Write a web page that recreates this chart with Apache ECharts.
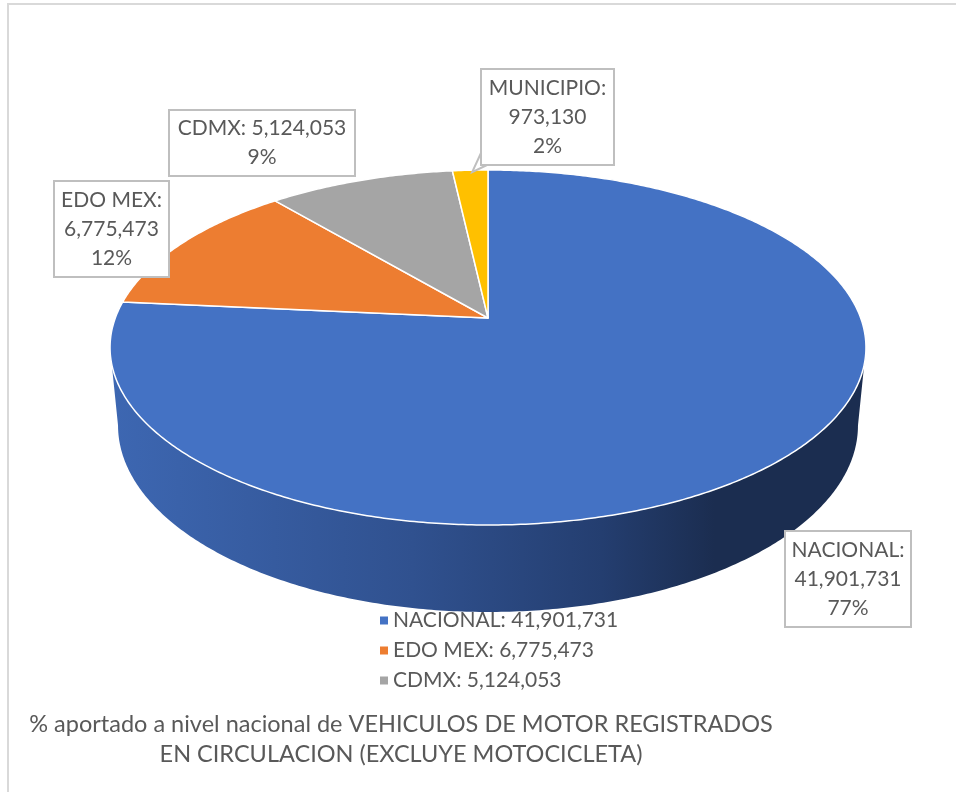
<!DOCTYPE html>
<html>
<head>
<meta charset="utf-8">
<script src="https://cdn.jsdelivr.net/npm/echarts@6/dist/echarts.min.js"></script>
<style>
  html, body { margin: 0; padding: 0; background: #fff; }
  #main { width: 956px; height: 792px; }
</style>
</head>
<body>
<div id="main"></div>
<script>
// datos del grafico
const names = ['NACIONAL', 'EDO MEX', 'CDMX', 'MUNICIPIO']
const values = [41901731, 6775473, 5124053, 973130]
const legendNames = ['NACIONAL', 'EDO MEX', 'CDMX']
const colors = ['#4472c4', '#ed7d31', '#a5a5a5', '#ffc000']

const titleLines = [
  '% aportado a nivel nacional de VEHICULOS DE MOTOR REGISTRADOS',
  'EN CIRCULACION (EXCLUYE MOTOCICLETA)'
]

// posiciones de las etiquetas (cajas) [x, y, w, h]
const labelBoxes = [
  [785, 531, 126, 96],
  [54, 181, 115, 96],
  [169, 110, 186, 66],
  [481, 69, 133, 96]
]

const total = values.reduce((a, b) => a + b, 0)
const cum = []
values.reduce((acc, v, i) => { cum[i] = acc; return acc + v }, 0)

// porcentajes enteros que suman 100 (resto mayor, como excel)
const pcts = (() => {
  const raw = values.map(v => v / total * 100)
  const out = raw.map(Math.floor)
  let left = 100 - out.reduce((a, b) => a + b, 0)
  const order = raw.map((r, i) => i).sort((a, b) => (raw[b] - out[b]) - (raw[a] - out[a]))
  for (let k = 0; k < left; k++) out[order[k]]++
  return out
})()

const fmt = v => v.toLocaleString('en-US')

// proyeccion en perspectiva del pastel 3d
const cx = 488, cy = 318, A = 372.7, B = 172.6, P = 0.1662, Q = 0.021, H = 78.7
function proj (phi, bottom) {
  const u = Math.sin(phi)
  const w = -Math.cos(phi)
  const den = 1 - P * w + (bottom ? Q : 0)
  return [cx + A * u / den, cy + (B * w + (bottom ? H : 0)) / den]
}
function arc (a0, a1, bottom) {
  const pts = []
  const n = Math.max(2, Math.ceil(Math.abs(a1 - a0) / 0.01))
  for (let i = 0; i <= n; i++) pts.push(proj(a0 + (a1 - a0) * i / n, bottom))
  return pts
}

const TXT = '#595959'
const FONT = 'Lato, "Open Sans", sans-serif'

function renderItem (params, api) {
  const i = params.dataIndex
  const v = api.value(0)
  const a0 = cum[i] / total * Math.PI * 2
  const a1 = (cum[i] + v) / total * Math.PI * 2
  const children = []

  if (i === 0) {
    // pared frontal
    const tR = Math.PI - Math.acos(P)
    const tL = Math.PI + Math.acos(P)
    const bR = Math.PI - Math.acos(P / (1 + Q))
    const bL = Math.PI + Math.acos(P / (1 + Q))
    const wall = arc(tR, tL, false).concat(arc(bL, bR, true))
    children.push({
      type: 'polygon',
      shape: { points: wall },
      style: {
        fill: {
          type: 'linear', x: 0, y: 0, x2: 1, y2: 0,
          colorStops: [
            { offset: 0, color: '#3d67b2' },
            { offset: 0.4, color: '#30518f' },
            { offset: 0.65, color: '#243e70' },
            { offset: 0.8, color: '#1b2d50' },
            { offset: 1, color: '#1b2d50' }
          ]
        }
      }
    })
  }

  const pts = [[cx, cy]].concat(arc(a0, a1, false))
  children.push({
    type: 'polygon',
    shape: { points: pts },
    style: { fill: colors[i], stroke: '#fff', lineWidth: 1.5, lineJoin: 'round' }
  })

  const b = labelBoxes[i]
  if (i === 3) {
    const mid = proj((a0 + a1) / 2, false)
    children.push({
      type: 'polyline',
      shape: { points: [[b[0] + 6, b[1] + b[3]], [mid[0] + 2, mid[1] + 2], [b[0], b[1] + b[3] - 12]] },
      style: { stroke: '#bfbfbf', lineWidth: 2, fill: null }
    })
  }
  children.push({
    type: 'rect',
    shape: { x: b[0], y: b[1], width: b[2], height: b[3] },
    style: { fill: '#fff', stroke: '#bfbfbf', lineWidth: 2 }
  })
  const lines = b[2] > 150
    ? [names[i] + ': ' + fmt(v), pcts[i] + '%']
    : [names[i] + ':', fmt(v), pcts[i] + '%']
  children.push({
    type: 'text',
    style: {
      text: lines.join('\n'),
      x: b[0] + b[2] / 2,
      y: b[1] + b[3] / 2,
      align: 'center',
      verticalAlign: 'middle',
      fill: TXT,
      font: '21px ' + FONT,
      lineHeight: 29
    }
  })
  return { type: 'group', children: children }
}

const option = {
  animation: false,
  title: {
    text: titleLines.join('\n'),
    left: 396,
    top: 704,
    textAlign: 'center',
    textStyle: { color: TXT, fontFamily: FONT, fontSize: 23.5, fontWeight: 'normal', lineHeight: 30 }
  },
  legend: {
    data: legendNames,
    orient: 'vertical',
    left: 375,
    top: 605,
    icon: 'rect',
    itemWidth: 8,
    itemHeight: 8,
    itemGap: 9,
    formatter: n => n + ': ' + fmt(values[names.indexOf(n)]),
    textStyle: { color: TXT, fontFamily: FONT, fontSize: 21, lineHeight: 20 }
  },
  graphic: [{
    type: 'rect',
    shape: { x: 8, y: 4, width: 1200, height: 1200 },
    style: { fill: null, stroke: '#d9d9d9', lineWidth: 2 },
    silent: true
  }],
  series: [
    {
      type: 'custom',
      coordinateSystem: 'none',
      renderItem: renderItem,
      data: values.map((v, i) => ({ name: names[i], value: [v] })),
      silent: true
    },
    {
      // solo para la leyenda
      type: 'pie',
      center: [-200, -200],
      radius: [0, 1],
      silent: true,
      label: { show: false },
      labelLine: { show: false },
      data: values.map((v, i) => ({ name: names[i], value: v, itemStyle: { color: colors[i] } }))
    }
  ]
}

const chart = echarts.init(document.getElementById('main'))
chart.setOption(option)
</script>
</body>
</html>
